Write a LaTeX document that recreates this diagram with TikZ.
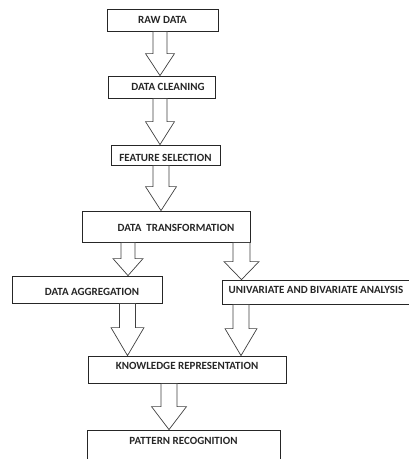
\documentclass[tikz,border=0pt]{standalone}
\usepackage{fontspec}
\setmainfont{Carlito}
\usetikzlibrary{calc}
\tikzset{
  box/.style={draw=black!85, line width=0.8pt, inner sep=0pt, anchor=base,
    font=\fontsize{11}{13}\selectfont\bfseries, text=black!85},
  barrowline/.style={draw=black!75, line width=0.7pt, fill=white, line join=miter},
}
% start, end, shaft half width, head half width, head length
\newcommand\blockarrow[5]{%
  \draw[barrowline] let \p1=(#1), \p2=(#2) in
    (\x1-#3pt,\y1) -- (\x1-#3pt,\y2+#5pt) -- (\x1-#4pt,\y2+#5pt) -- (\x1,\y2)
    -- (\x1+#4pt,\y2+#5pt) -- (\x1+#3pt,\y2+#5pt) -- (\x1+#3pt,\y1) -- cycle;
}
\begin{document}
\begin{tikzpicture}[x=1pt,y=-1pt]
\useasboundingbox (0,0) rectangle (409,459);
\clip (0,0) rectangle (409,459);

\node[box, minimum width=111pt, text height=14pt, text depth=8pt] (raw) at (162.5,23) {RAW DATA};
\node[box, minimum width=107pt, text height=14.5pt, text depth=7.5pt] (clean) at (161.5,90.5) {\hspace{13pt}DATA CLEANING};
\node[box, minimum width=109pt, text height=16pt, text depth=4pt] (feat) at (165.5,161) {FEATURE SELECTION};
\node[box, minimum width=168pt, text height=20pt, text depth=11pt] (trans) at (166,231) {\hspace{20pt}DATA\ \ TRANSFORMATION};
\node[box, minimum width=150pt, text height=19pt, text depth=8pt] (agg) at (87,295) {\hspace{10pt}DATA AGGREGATION};
\node[box, minimum width=188pt, text height=13pt, text depth=11pt] (uni) at (316,293) {UNIVARIATE AND BIVARIATE ANALYSIS};
\node[box, minimum width=198pt, text height=13pt, text depth=14pt] (know) at (187,369) {KNOWLEDGE REPRESENTATION\hspace{44pt}};
\node[box, minimum width=193pt, text height=14pt, text depth=26pt] (pat) at (183.5,444) {PATTERN RECOGNITION\hspace{11pt}};

\blockarrow{160,0 |- raw.south}{160,0 |- clean.north}{7}{14.5}{22}
\blockarrow{160,0 |- clean.south}{160,0 |- feat.north}{7}{14.5}{23}
\blockarrow{161,0 |- feat.south}{161,0 |- trans.north}{8}{15.5}{24}
\blockarrow{128,0 |- trans.south}{128,0 |- agg.north}{7}{15}{17}
\blockarrow{241.5,0 |- trans.south}{241.5,0 |- uni.north}{8.5}{17.5}{18}
\blockarrow{127.5,0 |- agg.south}{127.5,0 |- know.north}{8}{16.5}{28}
\blockarrow{241,0 |- uni.south}{241,0 |- know.north}{8}{16}{27}
\blockarrow{169,0 |- know.south}{169,0 |- pat.north}{8}{17.5}{23}
\end{tikzpicture}
\end{document}
